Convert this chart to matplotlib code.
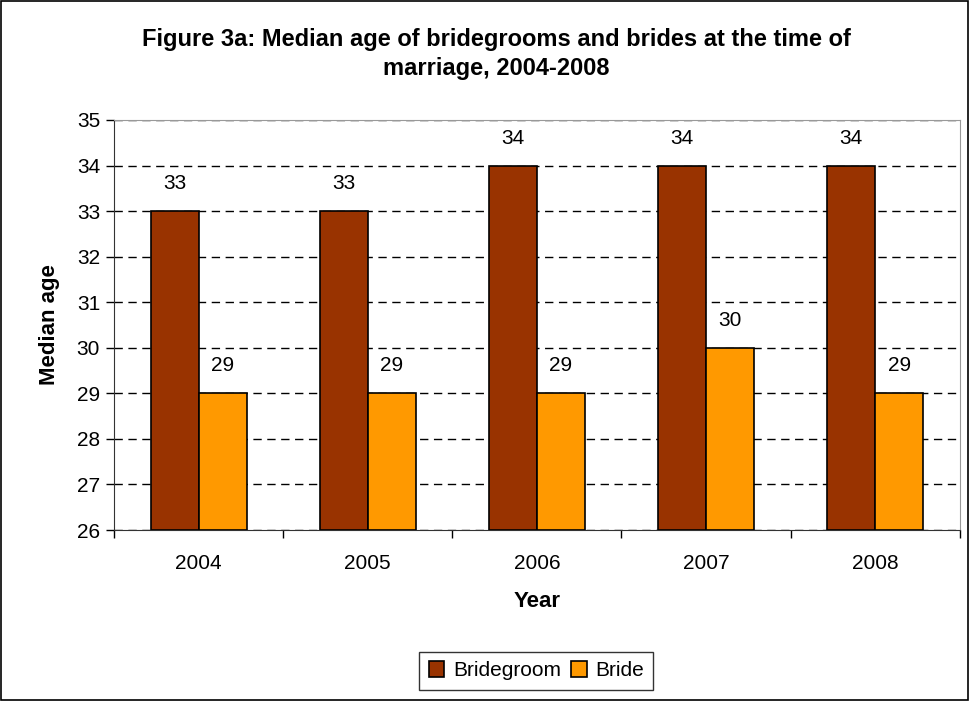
import numpy as np
import matplotlib
matplotlib.use("Agg")
import matplotlib.pyplot as plt
from matplotlib.patches import Rectangle

plt.rcParams['font.family'] = ['Liberation Sans', 'DejaVu Sans']

years = ["2004", "2005", "2006", "2007", "2008"]
bridegroom = [33, 33, 34, 34, 34]
bride = [29, 29, 29, 30, 29]

fig = plt.figure(figsize=(9.70, 7.01), dpi=100)
ax = fig.add_axes([0.1175, 0.2439, 0.872, 0.585])

x = np.arange(len(years))
w = 0.284
b1 = ax.bar(x - w/2, [v - 26 for v in bridegroom], w, bottom=26, color="#993300",
            edgecolor="black", linewidth=1.2, label="Bridegroom", zorder=3)
b2 = ax.bar(x + w/2, [v - 26 for v in bride], w, bottom=26, color="#FF9900",
            edgecolor="black", linewidth=1.2, label="Bride", zorder=3)

# value labels above the bars
for xi, v in zip(x - w/2, bridegroom):
    ax.text(xi, v + 0.6, str(v), ha="center", va="center", fontsize=15)
for xi, v in zip(x + w/2, bride):
    ax.text(xi, v + 0.6, str(v), ha="center", va="center", fontsize=15)

ax.set_xlim(-0.5, len(years) - 0.5)
ax.set_ylim(26, 35)
ax.set_yticks(range(26, 36))
ax.tick_params(axis="y", labelsize=15, length=6, width=1, direction="out", pad=4)
ax.set_xticks(x)
ax.set_xticklabels(years, fontsize=15)
ax.tick_params(axis="x", length=0, pad=17)
# tick marks between the year groups
ax.set_xticks(np.arange(-0.5, len(years)), minor=True)
ax.tick_params(axis="x", which="minor", length=6, width=1, direction="out")

ax.yaxis.grid(True, linestyle=(0, (6, 4)), color="black", linewidth=1, zorder=0)
ax.set_axisbelow(True)

for s in ["top", "right"]:
    ax.spines[s].set_color("#999999")
ax.spines["left"].set_color("#333333")
ax.spines["bottom"].set_color("#333333")

ax.set_ylabel("Median age", fontsize=16, fontweight="bold", labelpad=12)
ax.set_xlabel("Year", fontsize=16, fontweight="bold", labelpad=13)

fig.text(0.512, 0.923, "Figure 3a: Median age of bridegrooms and brides at the time of\nmarriage, 2004-2008",
         ha="center", va="center", fontsize=17, fontweight="bold", linespacing=1.35)

leg = fig.legend(handles=[b1, b2], loc="center", bbox_to_anchor=(0.553, 0.043), ncol=2,
                 fontsize=15, frameon=True, fancybox=False, edgecolor="black",
                 handlelength=0.75, handleheight=0.75, handletextpad=0.4, columnspacing=0.5,
                 borderpad=0.45, borderaxespad=0.3)
leg.get_frame().set_linewidth(1)

fig.patches.append(Rectangle((0.001, 0.001), 0.997, 0.997, transform=fig.transFigure,
                             fill=False, edgecolor="black", linewidth=1.2))

fig.savefig("out.png", dpi=100)
